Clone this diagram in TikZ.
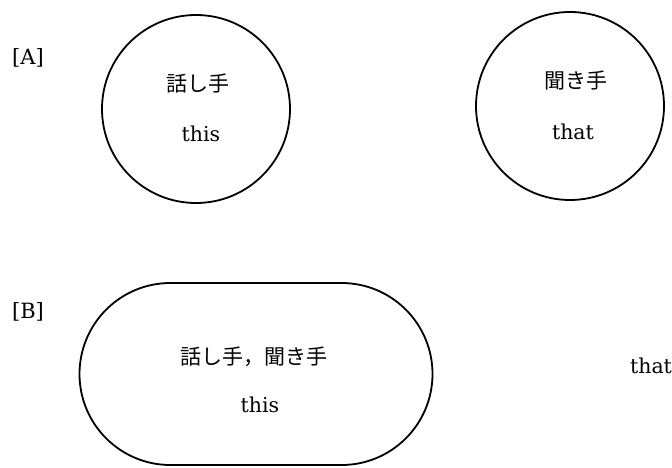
\documentclass[tikz,border=0pt]{standalone}
\usepackage{fontspec}
\setmainfont{DejaVu Serif}
\newfontfamily\cjk{Noto Sans CJK JP}
\usetikzlibrary{shapes.misc}
\begin{document}
\begin{tikzpicture}[x=1pt,y=-1pt,
  ring/.style={draw,circle,line width=1.8pt,minimum size=188pt,inner sep=0pt},
  pill/.style={draw,rounded rectangle,line width=1.8pt,minimum width=353pt,minimum height=182pt,inner sep=0pt},
  jp/.style={font=\cjk\fontsize{21}{24}\selectfont,inner sep=0pt},
  en/.style={font=\fontsize{20.5}{24}\selectfont,inner sep=0pt},
  tag/.style={font=\fontsize{21}{24}\selectfont,inner sep=0pt}]
\useasboundingbox (0,0) rectangle (672,468);
\node[tag] (la) at (28,58) {[A]};
\node[tag] (lb) at (28,312) {[B]};
\node[ring] (spk) at (196,109) {};
\node[jp] (spkname) at (198,84) {話し手};
\node[en] (spkthis) at (201,134) {this};
\node[ring] (lis) at (570,106) {};
\node[jp] (lisname) at (576,81) {聞き手};
\node[en] (listhat) at (573,132) {that};
\node[pill] (both) at (256,374) {};
\node[jp] (bothname) at (254,357) {話し手，聞き手};
\node[en] (boththis) at (260,405) {this};
\node[en] (farthat) at (651,366) {that};
\end{tikzpicture}
\end{document}
